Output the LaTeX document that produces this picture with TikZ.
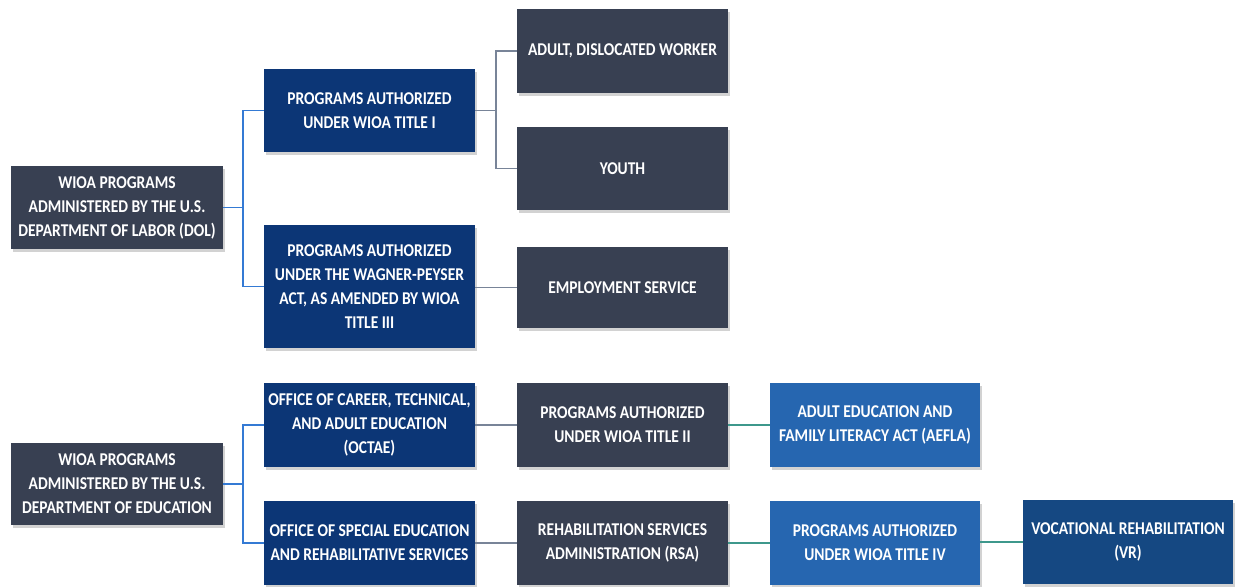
\documentclass[tikz,border=0pt]{standalone}
\usepackage{fontspec}
\setmainfont{Carlito}[FakeStretch=0.86]
\usetikzlibrary{shadows}
\definecolor{slate}{RGB}{56,64,82}
\definecolor{navy}{RGB}{12,54,118}
\definecolor{lblue}{RGB}{38,102,176}
\definecolor{vrblue}{RGB}{21,72,130}
\definecolor{cblue}{RGB}{52,122,212}
\definecolor{cgray}{RGB}{120,132,152}
\definecolor{cteal}{RGB}{62,152,140}
\tikzset{
  box/.style={rectangle, minimum width=211pt, minimum height=83pt, inner sep=2pt,
    align=center, text=white, font=\fontsize{18}{24}\selectfont\bfseries,
    drop shadow={opacity=0.35, shadow xshift=1.5pt, shadow yshift=-3pt}},
  slatebox/.style={box, fill=slate},
  navybox/.style={box, fill=navy},
  lbluebox/.style={box, fill=lblue},
  vrbox/.style={box, fill=vrblue},
  bline/.style={draw=cblue, line width=1.6pt},
  gline/.style={draw=cgray, line width=1.6pt},
  tline/.style={draw=cteal, line width=1.6pt}
}
\begin{document}
\begin{tikzpicture}[x=1pt, y=-1pt]
\useasboundingbox[fill=white] (0,0) rectangle (1238,586);
% DOL
\node[slatebox, minimum width=212pt] (dol) at (117,207.5) {WIOA PROGRAMS\\ADMINISTERED BY THE U.S.\\DEPARTMENT OF LABOR (DOL)};
\node[navybox] (t1) at (369.5,110.5) {PROGRAMS AUTHORIZED\\UNDER WIOA TITLE I};
\node[slatebox] (adult) at (622.5,51) {ADULT, DISLOCATED WORKER};
\node[slatebox] (youth) at (622.5,168.5) {YOUTH};
\node[navybox, minimum height=123pt] (wp) at (369.5,286.5) {PROGRAMS AUTHORIZED\\UNDER THE WAGNER-PEYSER\\ACT, AS AMENDED BY WIOA\\TITLE III};
\node[slatebox, minimum height=81pt] (es) at (622.5,287.5) {EMPLOYMENT SERVICE};
% ED
\node[slatebox, minimum width=212pt, minimum height=82pt] (ed) at (117,484) {WIOA PROGRAMS\\ADMINISTERED BY THE U.S.\\DEPARTMENT OF EDUCATION};
\node[navybox, minimum height=84pt] (octae) at (369.5,425) {OFFICE OF CAREER, TECHNICAL,\\AND ADULT EDUCATION\\(OCTAE)};
\node[navybox, minimum height=84pt] (osers) at (369.5,543) {OFFICE OF SPECIAL EDUCATION\\AND REHABILITATIVE SERVICES};
\node[slatebox, minimum height=84pt] (t2) at (622.5,425) {PROGRAMS AUTHORIZED\\UNDER WIOA TITLE II};
\node[lbluebox, minimum width=210pt, minimum height=84pt] (aefla) at (875,425) {ADULT EDUCATION AND\\FAMILY LITERACY ACT (AEFLA)};
\node[slatebox, minimum height=84pt] (rsa) at (622.5,543) {REHABILITATION SERVICES\\ADMINISTRATION (RSA)};
\node[lbluebox, minimum width=210pt, minimum height=84pt] (t4) at (875,543) {PROGRAMS AUTHORIZED\\UNDER WIOA TITLE IV};
\node[vrbox, minimum width=210pt, minimum height=84pt] (vr) at (1128,542) {VOCATIONAL REHABILITATION\\(VR)};
% connectors
\draw[bline] (dol.east) -- ++(20,0) coordinate (j1) |- (t1.west);
\draw[bline] (j1) |- (wp.west);
\draw[gline] (t1.east) -- ++(21,0) coordinate (j2) |- (adult.west);
\draw[gline] (j2) |- (youth.west);
\draw[gline] (wp.east |- es.west) -- (es.west);
\draw[bline] (ed.east) -- ++(20,0) coordinate (j3) |- (octae.west);
\draw[bline] (j3) |- (osers.west);
\draw[gline] (octae.east) -- (t2.west);
\draw[tline] (t2.east) -- (aefla.west);
\draw[gline] (osers.east) -- (rsa.west);
\draw[tline] (rsa.east) -- (t4.west);
\draw[tline] (t4.east |- vr.west) -- (vr.west);
\end{tikzpicture}
\end{document}
